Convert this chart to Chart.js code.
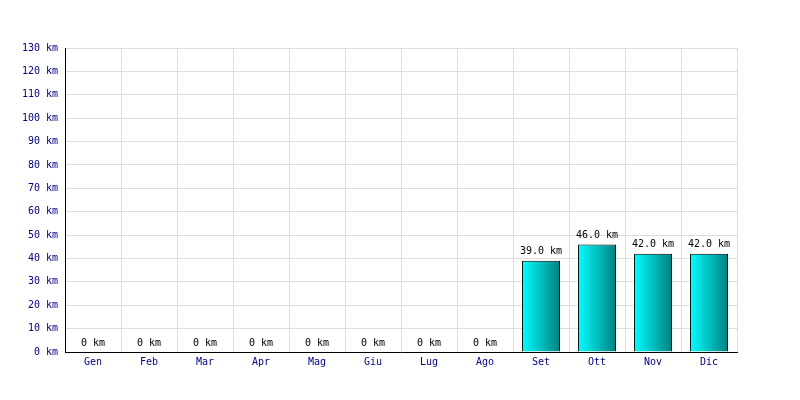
<!DOCTYPE html>
<html>
<head>
<meta charset="utf-8">
<script src="https://cdn.jsdelivr.net/npm/chart.js@4/dist/chart.umd.min.js"></script>
<style>
  html, body { margin: 0; padding: 0; background: #fff; }
  #wrap { width: 800px; height: 400px; }
</style>
</head>
<body>
<div id="wrap"><canvas id="c" width="800" height="400"></canvas></div>
<script>
// Monthly distance
const months = ['Gen', 'Feb', 'Mar', 'Apr', 'Mag', 'Giu', 'Lug', 'Ago', 'Set', 'Ott', 'Nov', 'Dic'];
const km = [0, 0, 0, 0, 0, 0, 0, 0, 39, 46, 42, 42];
const yMax = 130;
const yStep = 10;

const FONT = "'DejaVu Sans Mono', monospace";
const CAT_PCT = 0.68;

function barGradient(c) {
  const chart = c.chart;
  const xs = chart.scales && chart.scales.x;
  if (!xs || !chart.chartArea) return '#00c0c0';
  const cx = xs.getPixelForValue(c.dataIndex);
  const half = (xs.width / months.length) * CAT_PCT / 2;
  if (!isFinite(cx) || !isFinite(half) || half <= 0) return '#00c0c0';
  const g = chart.ctx.createLinearGradient(cx - half, 0, cx + half, 0);
  g.addColorStop(0, '#00ffff');
  g.addColorStop(1, '#008080');
  return g;
}

// labels above the bars
const valueLabels = {
  id: 'valueLabels',
  afterDatasetsDraw(chart) {
    const ctx = chart.ctx;
    const meta = chart.getDatasetMeta(0);
    ctx.save();
    ctx.font = '10px ' + FONT;
    ctx.fillStyle = '#000';
    ctx.textAlign = 'center';
    ctx.textBaseline = 'bottom';
    meta.data.forEach((bar, i) => {
      const v = km[i];
      const txt = v === 0 ? '0 km' : v.toFixed(1) + ' km';
      ctx.fillText(txt, bar.x, bar.y - 4);
    });
    ctx.restore();
  }
};

new Chart(document.getElementById('c'), {
  type: 'bar',
  data: {
    labels: months,
    datasets: [{
      data: km,
      backgroundColor: barGradient,
      borderColor: '#000',
      borderWidth: 1,
      borderSkipped: 'bottom',
      categoryPercentage: CAT_PCT,
      barPercentage: 1
    }]
  },
  options: {
    responsive: false,
    animation: false,
    layout: { padding: { top: 48, right: 63, left: 0, bottom: 0 } },
    plugins: {
      legend: { display: false },
      tooltip: { enabled: false }
    },
    scales: {
      x: {
        grid: { color: '#dddddd', drawTicks: false, offset: true },
        border: { color: '#000', width: 1 },
        ticks: { color: '#000080', font: { family: FONT, size: 10 }, padding: 4 },
        afterFit: (s) => { s.height = 48; }
      },
      y: {
        min: 0,
        max: yMax,
        grid: { color: '#dddddd', drawTicks: false },
        border: { color: '#000', width: 1 },
        ticks: {
          stepSize: yStep,
          color: '#000080',
          font: { family: FONT, size: 10 },
          padding: 7,
          callback: (v) => v + ' km'
        },
        afterFit: (s) => { s.width = 65; }
      }
    }
  },
  plugins: [valueLabels]
});
</script>
</body>
</html>
